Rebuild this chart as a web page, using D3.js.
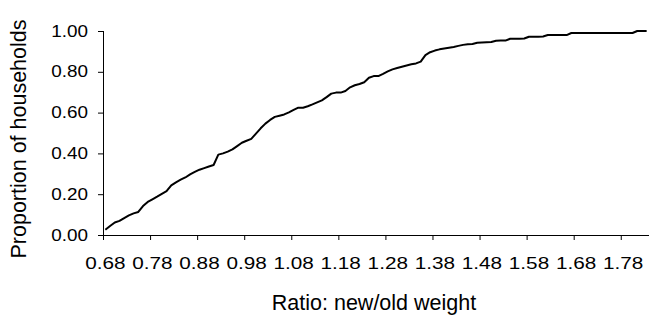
<!DOCTYPE html>
<html>
<head>
<meta charset="utf-8">
<script src="https://cdn.jsdelivr.net/npm/d3@7"></script>
<style>
  html, body { margin: 0; padding: 0; background: #fff; }
  svg { display: block; font-family: "Liberation Sans", Arial, sans-serif; }
</style>
</head>
<body>
<div id="chart"></div>
<script>
// --- data: cumulative proportion of households by new/old weight ratio ---
const categories = d3.range(116).map(i => (0.68 + i * 0.01).toFixed(2));

const proportions = [
  0.026, 0.044, 0.061, 0.069, 0.083, 0.096, 0.106, 0.113, 0.142, 0.162,
  0.175, 0.188, 0.202, 0.215, 0.243, 0.258, 0.271, 0.282, 0.297, 0.309,
  0.320, 0.328, 0.336, 0.343, 0.394, 0.400, 0.409, 0.420, 0.436, 0.452,
  0.462, 0.471, 0.497, 0.523, 0.546, 0.564, 0.579, 0.585, 0.591, 0.601,
  0.613, 0.624, 0.624, 0.631, 0.640, 0.650, 0.660, 0.676, 0.693, 0.698,
  0.698, 0.706, 0.724, 0.734, 0.740, 0.749, 0.771, 0.779, 0.779, 0.790,
  0.802, 0.812, 0.819, 0.825, 0.831, 0.837, 0.841, 0.850, 0.882, 0.896,
  0.904, 0.910, 0.914, 0.918, 0.922, 0.927, 0.932, 0.935, 0.936, 0.942,
  0.944, 0.945, 0.946, 0.952, 0.953, 0.953, 0.962, 0.962, 0.962, 0.963,
  0.972, 0.972, 0.972, 0.973, 0.980, 0.980, 0.980, 0.980, 0.980, 0.990,
  0.990, 0.990, 0.990, 0.990, 0.990, 0.990, 0.990, 0.990, 0.990, 0.990,
  0.990, 0.990, 0.990, 1.000, 1.000, 1.000
];

const xTickLabels = ["0.68", "0.78", "0.88", "0.98", "1.08", "1.18",
                     "1.28", "1.38", "1.48", "1.58", "1.68", "1.78"];
const yTicks = [0, 0.2, 0.4, 0.6, 0.8, 1.0];

// --- layout ---
const W = 649, H = 315;
const plot = { left: 103, right: 649, top: 31, bottom: 235 };

const svg = d3.select("#chart").append("svg")
  .attr("width", W)
  .attr("height", H);

// category index scale (Excel-like category axis, one tick per 10 categories)
const x = d3.scaleLinear().domain([0, categories.length]).range([plot.left, plot.right]);
const y = d3.scaleLinear().domain([0, 1]).range([plot.bottom, plot.top]);

// y axis
const yAxis = d3.axisLeft(y).tickValues(yTicks).tickSize(5).tickFormat("");
const gy = svg.append("g").attr("transform", `translate(${plot.left},0)`).call(yAxis);
gy.select(".domain").attr("stroke", "#000").attr("d", `M0.5,${plot.top}V${plot.bottom}`);
gy.selectAll(".tick line").attr("stroke", "#000");

// tick labels in the reference look a bit wide, so stretch them horizontally
svg.append("g").selectAll("text")
  .data(yTicks)
  .join("text")
  .attr("transform", d => `translate(88,${y(d)}) scale(1.18,1)`)
  .attr("text-anchor", "end")
  .attr("dy", "0.35em")
  .style("font-size", "16px")
  .attr("fill", "#000")
  .text(d => d.toFixed(2));

// x axis
const xTickIdx = xTickLabels.map((_, i) => i * 10);
const xAxis = d3.axisBottom(x).tickValues(xTickIdx).tickSize(5).tickFormat("");
const gx = svg.append("g").attr("transform", `translate(0,${plot.bottom})`).call(xAxis);
gx.select(".domain").attr("stroke", "#000").attr("d", `M${plot.left},0.5H${plot.right}`);
gx.selectAll(".tick line").attr("stroke", "#000");

// labels sit on the centre of their category
svg.append("g").selectAll("text")
  .data(xTickLabels)
  .join("text")
  .attr("transform", (d, i) => `translate(${x(i * 10 + 0.5)},268.5) scale(1.22,1)`)
  .attr("text-anchor", "middle")
  .style("font-size", "17px")
  .attr("fill", "#000")
  .text(d => d);

// axis titles
svg.append("text")
  .attr("x", 374)
  .attr("y", 310)
  .attr("text-anchor", "middle")
  .style("font-size", "21.5px")
  .attr("fill", "#000")
  .text("Ratio: new/old weight");

svg.append("text")
  .attr("transform", "translate(26,139) rotate(-90)")
  .attr("text-anchor", "middle")
  .style("font-size", "21.5px")
  .attr("fill", "#000")
  .text("Proportion of households");

// line
const line = d3.line()
  .x((d, i) => x(i + 0.5))
  .y(d => y(d));

svg.append("path")
  .datum(proportions)
  .attr("fill", "none")
  .attr("stroke", "#000")
  .attr("stroke-width", 2)
  .attr("stroke-linejoin", "round")
  .attr("d", line);
</script>
</body>
</html>
